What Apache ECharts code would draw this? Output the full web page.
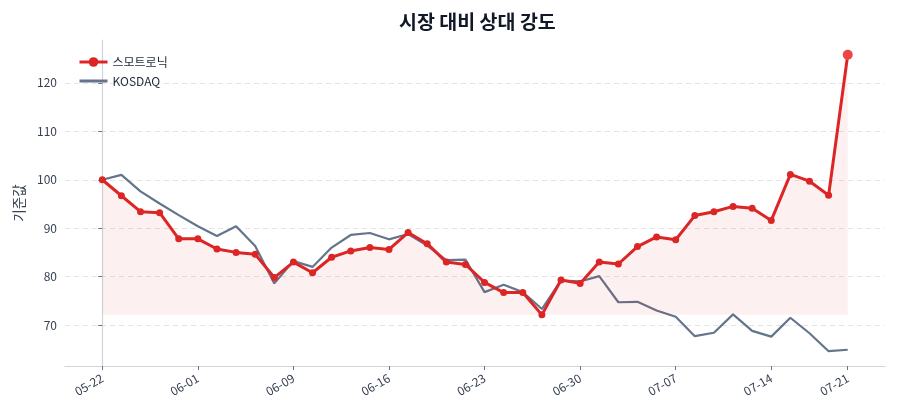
<!DOCTYPE html>
<html>
<head>
<meta charset="utf-8">
<script src="https://cdn.jsdelivr.net/npm/echarts@6/dist/echarts.min.js"></script>
<style>
  html, body { margin: 0; padding: 0; background: #fff; }
  #main { width: 900px; height: 420px; }
</style>
</head>
<body>
<div id="main"></div>
<script>
// 거래일 (x축 카테고리)
var dates = [
  '05-22','05-23','05-26','05-27','05-28',
  '06-01','06-02','06-03','06-04','06-05',
  '06-09','06-10','06-11','06-12','06-13',
  '06-16','06-17','06-18','06-19','06-20',
  '06-23','06-24','06-25','06-26','06-27',
  '06-30','07-01','07-02','07-03','07-04',
  '07-07','07-08','07-09','07-10','07-11',
  '07-14','07-15','07-16','07-17','07-21'
];
var tickIdx = [0, 5, 10, 15, 20, 25, 30, 35, 39];
var yTicks = [70, 80, 90, 100, 110, 120];

// 스모트로닉 (기준 100)
var stockVals = [
  100.0, 96.7, 93.4, 93.2, 87.8, 87.8, 85.7, 85.0, 84.6, 79.8,
  83.0, 80.8, 84.0, 85.3, 86.0, 85.6, 89.1, 86.8, 83.0, 82.5,
  78.8, 76.7, 76.7, 72.1, 79.3, 78.6, 83.0, 82.6, 86.2, 88.2,
  87.6, 92.6, 93.4, 94.5, 94.1, 91.6, 101.1, 99.7, 96.8, 125.8
];
// KOSDAQ (기준 100)
var kosdaqVals = [
  100.0, 101.0, 97.6, 95.1, 92.7, 90.4, 88.4, 90.4, 86.3, 78.6,
  83.2, 82.0, 86.0, 88.6, 89.0, 87.7, 88.8, 86.4, 83.4, 83.5,
  76.8, 78.3, 76.8, 73.3, 79.2, 79.0, 80.1, 74.7, 74.8, 73.0,
  71.7, 67.7, 68.4, 72.2, 68.8, 67.6, 71.5, 68.3, 64.6, 64.9
];

var stockName = '스모트로닉';
var indexName = 'KOSDAQ';

var chart = echarts.init(document.getElementById('main'), null, { renderer: 'canvas' });

var stockData = stockVals.map(function (v, i) {
  if (i === stockVals.length - 1) {
    return { value: [i, v], symbolSize: 10, itemStyle: { color: '#ef4444' } };
  }
  return [i, v];
});
var kosdaqData = kosdaqVals.map(function (v, i) { return [i, v]; });

var stockMin = Math.min.apply(null, stockVals);
var allVals = stockVals.concat(kosdaqVals);
var lo = Math.min.apply(null, allVals), hi = Math.max.apply(null, allVals);
var pad = (hi - lo) * 0.05;
var xPad = (dates.length - 1) * 0.05;

var font = '"Noto Sans CJK KR", "Noto Sans", sans-serif';
var textCol = '#374151';

var option = {
  backgroundColor: '#fff',
  animation: false,
  textStyle: { fontFamily: font },
  title: {
    text: '시장 대비 상대 강도',
    left: 394, top: 7,
    textStyle: { fontSize: 19.5, fontWeight: 'bold', color: '#111827', fontFamily: font }
  },
  legend: {
    orient: 'vertical', left: 73, top: 51,
    itemWidth: 28, itemHeight: 12, itemGap: 7,
    textStyle: { fontSize: 12, color: '#1f2937', fontFamily: font },
    data: [
      { name: stockName, lineStyle: { width: 3 } },
      { name: indexName, itemStyle: { opacity: 0 }, lineStyle: { width: 3 } }
    ]
  },
  grid: { left: 65, right: 15, top: 40, bottom: 54 },
  xAxis: {
    type: 'value',
    min: -xPad, max: dates.length - 1 + xPad,
    axisLine: { show: true, onZero: false, lineStyle: { color: '#d1d5db', width: 1.2 } },
    axisTick: { show: true, customValues: tickIdx, length: 4, lineStyle: { color: '#6b7280' } },
    axisLabel: {
      customValues: tickIdx, rotate: 30, color: textCol, fontSize: 12, margin: 11,
      formatter: function (v) { return dates[Math.round(v)]; }
    },
    splitLine: { show: false }
  },
  yAxis: {
    type: 'value',
    min: lo - pad, max: hi + pad,
    name: '기준값', nameLocation: 'middle', nameGap: 38,
    nameTextStyle: { fontSize: 13.5, color: textCol, fontFamily: font },
    axisLine: { show: true, lineStyle: { color: '#d1d5db', width: 1.2 } },
    axisTick: { show: true, customValues: yTicks, length: 4, lineStyle: { color: '#6b7280' } },
    axisLabel: { customValues: yTicks, color: textCol, fontSize: 12, margin: 8 },
    splitLine: { show: false }
  },
  series: [
    {
      name: stockName,
      type: 'line',
      data: stockData,
      symbol: 'circle', symbolSize: 7,
      color: '#dc2626',
      lineStyle: { width: 3, color: '#dc2626' },
      itemStyle: { color: '#dc2626' },
      areaStyle: { origin: stockMin, color: 'rgba(220,38,38,0.1)' },
      z: 3,
      markLine: {
        silent: true, symbol: 'none', label: { show: false },
        lineStyle: { type: [5, 4], color: '#e2e4e8', width: 1 },
        data: yTicks.map(function (t) { return { yAxis: t }; }),
        z: 0
      }
    },
    {
      name: indexName,
      type: 'line',
      data: kosdaqData,
      showSymbol: false, symbol: 'none',
      color: '#64748b',
      lineStyle: { width: 2.2, color: '#64748b' },
      z: 2
    }
  ]
};

chart.setOption(option);
</script>
</body>
</html>
